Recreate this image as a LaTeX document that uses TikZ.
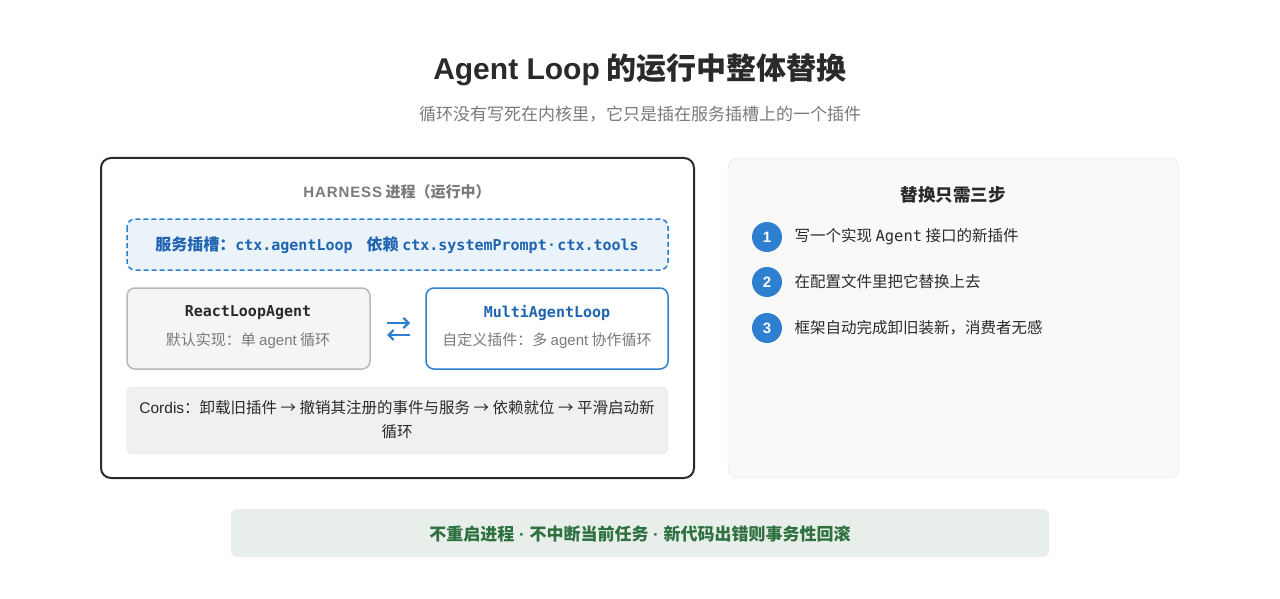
\documentclass[tikz,border=0pt]{standalone}
\usepackage{fontspec}
\setmainfont{Noto Sans CJK SC}
\newfontfamily\monof{DejaVu Sans Mono}
\newfontfamily\latf{Liberation Sans}
\usetikzlibrary{arrows.meta}
\definecolor{blu}{HTML}{2F7FD0}
\definecolor{bluT}{HTML}{1F64B0}
\definecolor{dark}{HTML}{2A2A2A}
\definecolor{grayT}{HTML}{7A7A7A}
\definecolor{grn}{HTML}{2E7040}
\tikzset{
 fs/.style={font=\fontsize{#1}{#1}\selectfont},
 box/.style={rounded corners=8pt, line width=1.5pt},
 stepc/.style={circle, fill=blu, minimum size=30pt, inner sep=0pt, text=white, font=\latf\bfseries\fontsize{15}{15}\selectfont},
 steptxt/.style={anchor=west, text=dark, fs=15.5},
}
\begin{document}
\begin{tikzpicture}[x=1pt,y=-1pt]
\useasboundingbox (0,0) rectangle (1280,599);
\fill[white] (0,0) rectangle (1280,599);
\node[text=dark, font=\bfseries\fontsize{30}{30}\selectfont] (title) at (640,70) {{\latf Agent Loop} 的运行中整体替换};
\node[text=grayT, fs=17] (sub) at (640,114) {循环没有写死在内核里，它只是插在服务插槽上的一个插件};
% left panel
\draw[box, rounded corners=10pt, draw=dark, fill=white, line width=2pt] (101,158) rectangle (694,478);
\node[text=grayT, font=\bfseries\fontsize{15}{15}\selectfont] (harness) at (397,192) {{\latf\addfontfeature{LetterSpace=6} HARNESS} 进程（运行中）};
\draw[box, draw=blu, fill=blu!10, dashed, dash pattern=on 5pt off 3pt] (127,219) rectangle (668,270);
\node[text=bluT, font=\bfseries\fontsize{16}{16}\selectfont] (slot) at (397,245) {服务插槽：{\monof\fontsize{15}{15}\selectfont ctx.agentLoop}\hspace{14pt}依赖 {\monof\fontsize{15}{15}\selectfont ctx.systemPrompt}\,{\latf ·}\,{\monof\fontsize{15}{15}\selectfont ctx.tools}};
\draw[box, draw=black!28, fill=black!4] (127,288) rectangle (370,369);
\node[text=dark, font=\monof\bfseries\fontsize{15}{15}\selectfont] (ra) at (248,313) {ReactLoopAgent};
\node[text=grayT, fs=15] (rad) at (248,341) {默认实现：单 {\latf agent} 循环};
\draw[box, draw=blu, fill=white] (426,288) rectangle (668,369);
\node[text=bluT, font=\monof\bfseries\fontsize{15}{15}\selectfont] (ma) at (547,313) {MultiAgentLoop};
\node[text=grayT, fs=15] (mad) at (547,341) {自定义插件：多 {\latf agent} 协作循环};
\coordinate (a1s) at (387,323); \coordinate (a1e) at (410,323);
\coordinate (a2s) at (410,335); \coordinate (a2e) at (387,335);
\draw[blu, line width=2.2pt, -{Straight Barb[length=5pt,width=10pt]}] (a1s) -- (a1e);
\draw[blu, line width=2.2pt, -{Straight Barb[length=5pt,width=10pt]}] (a2s) -- (a2e);
\draw[rounded corners=6pt, draw=black!12, fill=black!6] (127,387) rectangle (668,454);
\node[text=dark, align=center, font=\fontsize{15.5}{24}\selectfont] (cordis) at (397,420) {{\latf Cordis}：卸载旧插件 → 撤销其注册的事件与服务 → 依赖就位 → 平滑启动新\\循环};
% right panel
\draw[rounded corners=10pt, draw=black!10, fill=black!2.5] (728,158) rectangle (1179,478);
\node[text=dark, font=\bfseries\fontsize{17.5}{17.5}\selectfont] (rt) at (953,195) {替换只需三步};
\node[stepc] (s1) at (767,237) {1};
\node[stepc] (s2) at (767,282) {2};
\node[stepc] (s3) at (767,328) {3};
\node[steptxt] (t1) at (791,237) {写一个实现 {\monof Agent} 接口的新插件};
\node[steptxt] (t2) at (791,282) {在配置文件里把它替换上去};
\node[steptxt] (t3) at (791,328) {框架自动完成卸旧装新，消费者无感};
% banner
\fill[rounded corners=6pt, fill=grn!11] (231,509) rectangle (1049,557);
\node[text=grn, font=\bfseries\fontsize{17}{17}\selectfont] (ban) at (640,534) {不重启进程{\latf\ ·\ }不中断当前任务{\latf\ ·\ }新代码出错则事务性回滚};
\end{tikzpicture}
\end{document}
